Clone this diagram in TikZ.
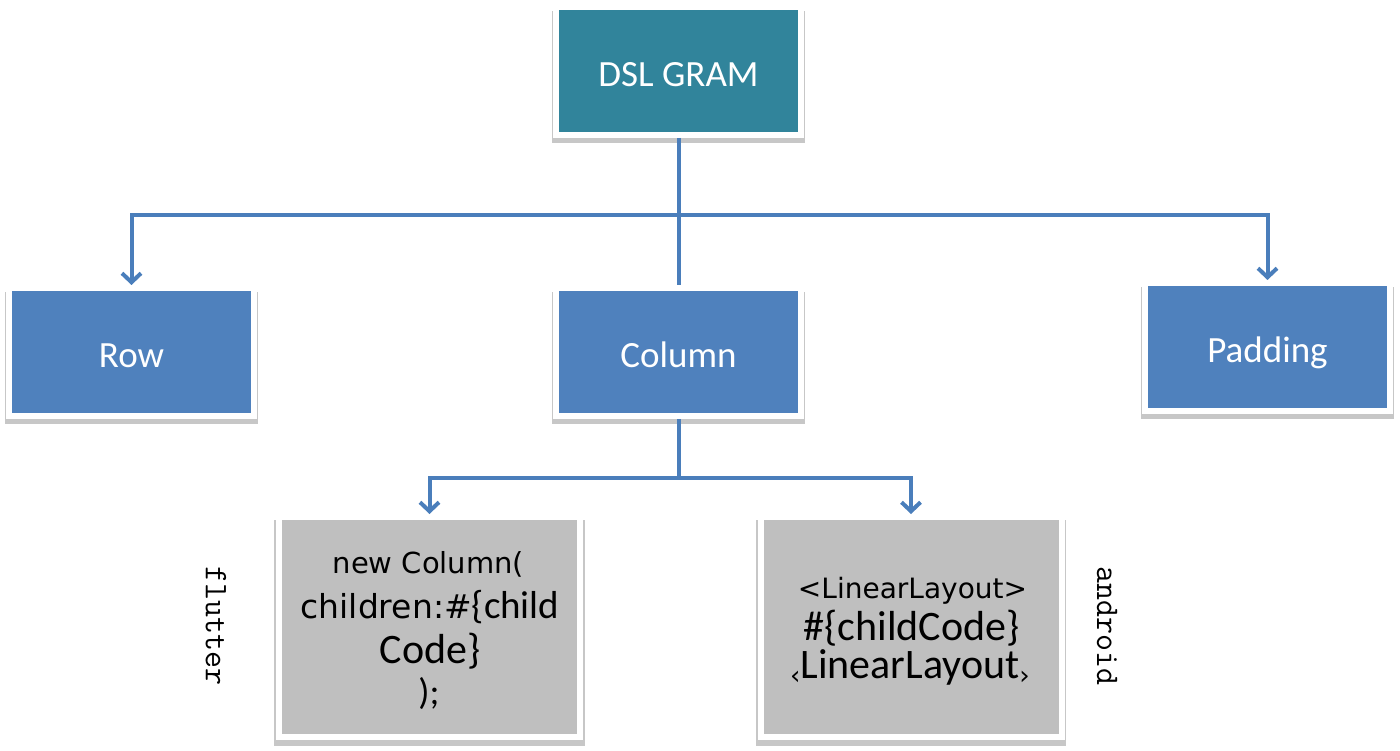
\documentclass[tikz,border=0pt]{standalone}
\usepackage{fontspec}
\setmainfont{Carlito}
\newfontfamily\lucfont{DejaVu Sans}
\usetikzlibrary{arrows.meta,shadows}
\definecolor{tealbox}{HTML}{31849B}
\definecolor{bluebox}{HTML}{4F81BD}
\definecolor{graybox}{HTML}{BFBFBF}
\definecolor{connblue}{HTML}{4A7EBB}
\tikzset{
  boxbase/.style={draw=white, line width=6pt, inner sep=0pt,
    drop shadow={shadow xshift=0pt, shadow yshift=-6pt, shadow scale=1.03, opacity=0.22, fill=black}},
  topbox/.style={boxbase, fill=tealbox, minimum width=245pt, minimum height=128pt,
    text=white, font=\fontsize{37}{40}\selectfont, text height=31pt, text depth=0pt},
  bluenode/.style={boxbase, fill=bluebox, minimum width=245pt, minimum height=128pt,
    text=white, font=\fontsize{37}{40}\selectfont, text height=31pt, text depth=0pt},
  graynode/.style={boxbase, fill=graybox, minimum width=301pt, minimum height=220pt},
  codeline/.style={anchor=base, inner sep=0pt, text=black},
  sidelabel/.style={rotate=-90, inner sep=0pt, font=\ttfamily\fontsize{33}{36}\selectfont},
  conn/.style={draw=connblue, line width=4pt},
  arr/.style={conn, -{Straight Barb[length=9pt, width=19pt]}},
}
\begin{document}
\begin{tikzpicture}[x=1pt, y=-1pt]
\useasboundingbox (0,0) rectangle (1400,751);

\node[topbox] (dsl) at (678.5,71) {DSL GRAM};
\node[bluenode] (row) at (131.5,352) {Row};
\node[bluenode] (col) at (678.5,352) {Column};
\node[bluenode] (pad) at (1267.5,347) {Padding};
\node[graynode] (flt) at (429.5,627) {};
\node[graynode] (and) at (911,627) {};

\coordinate (j1) at (678.5,215);
\coordinate (j2) at (678.5,478);

\draw[conn] (dsl.south) -- (col.north);
\draw[arr] (j1) -| (row.north);
\draw[arr] (j1) -| (pad.north);
\draw[conn] (col.south) -- (j2);
\draw[arr] (j2) -| (flt.north);
\draw[arr] (j2) -| (and.north);

% flutter code
\node[codeline, font=\lucfont\fontsize{29}{32}\selectfont] (f1) at (428.5,573) {new Column(};
\node[codeline] (f2) at (430,618) {{\lucfont\fontsize{33}{36}\selectfont children:\#}{\fontsize{39}{42}\selectfont\{child}};
\node[codeline, font=\fontsize{42}{46}\selectfont] (f3) at (430,663) {Code\}};
\node[codeline, font=\fontsize{37}{40}\selectfont] (f4) at (429,704) {);};

% android code
\node[codeline, font=\lucfont\fontsize{28}{32}\selectfont] (a1) at (912.5,598) {<LinearLayout>};
\node[codeline, font=\fontsize{42}{46}\selectfont] (a2) at (911.5,640) {\#\{childCode\}};
\node[codeline] (a3) at (910,678) {{\lucfont\fontsize{26}{28}\selectfont\raisebox{-6pt}{‹}}{\fontsize{42}{44}\selectfont LinearLayout}{\lucfont\fontsize{26}{28}\selectfont\raisebox{-6pt}{›}}};

\node[sidelabel] (fl) at (216,626) {flutter};
\node[sidelabel] (an) at (1107,626) {android};
\end{tikzpicture}
\end{document}
